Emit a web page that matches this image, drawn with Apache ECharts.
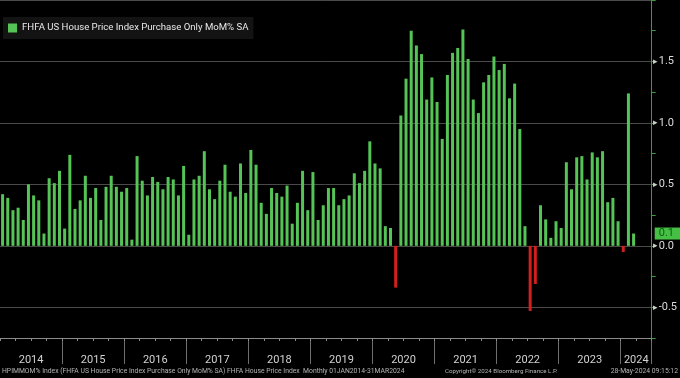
<!DOCTYPE html>
<html>
<head>
<meta charset="utf-8">
<script src="https://cdn.jsdelivr.net/npm/echarts@6/dist/echarts.min.js"></script>
<style>
html,body{margin:0;padding:0;background:#000;}
#c{width:680px;height:378px;}
</style>
</head>
<body>
<div id="c"></div>
<script>
// Monthly values Jan 2014 .. Mar 2024 (MoM %, SA)
const years = ['2014','2015','2016','2017','2018','2019','2020','2021','2022','2023','2024'];
const values = [
  0.42,0.39,0.29,0.31,0.21,0.50,0.41,0.37,0.10,0.55,0.51,0.61,
  0.14,0.74,0.30,0.37,0.57,0.39,0.47,0.21,0.48,0.57,0.48,0.44,
  0.47,0.05,0.73,0.53,0.41,0.56,0.52,0.46,0.56,0.54,0.41,0.65,
  0.09,0.54,0.57,0.77,0.46,0.38,0.53,0.66,0.44,0.40,0.67,0.43,
  0.78,0.66,0.35,0.26,0.47,0.43,0.40,0.49,0.18,0.35,0.61,0.29,
  0.60,0.21,0.33,0.47,0.47,0.33,0.38,0.41,0.59,0.51,0.61,0.85,
  0.67,0.63,0.16,0.145,-0.34,1.06,1.36,1.75,1.63,1.56,1.19,1.37,
  1.17,0.87,1.39,1.57,1.61,1.76,1.52,1.19,1.08,1.33,1.39,1.54,
  1.43,1.48,1.20,1.32,0.95,0.16,-0.53,-0.31,0.33,0.215,0.065,0.20,
  0.145,0.68,0.46,0.72,0.73,0.54,0.76,0.72,0.77,0.355,0.39,0.20,
  -0.05,1.24,0.10
];
const seriesName = 'FHFA US House Price Index Purchase Only MoM% SA';
const footerLeft = 'HPIMMOM% Index (FHFA US House Price Index Purchase Only MoM% SA) FHFA House Price Index  Monthly 01JAN2014-31MAR2024';
const footerMid = 'Copyright\u00a9 2024 Bloomberg Finance L.P.';
const footerRight = '28-May-2024 09:15:12';

// month categories incl. 3 empty trailing months
const months = [];
years.forEach(y => { for (let m = 1; m <= 12; m++) months.push(y + '-' + (m < 10 ? '0' + m : m)); });
const categories = months.slice(0, values.length + 3);
const lastIdx = values.length; // first empty category (Apr 2024) carries the '2024' label

const FONT = 'Roboto,"Liberation Sans",sans-serif';
const GREEN = '#55c355';
const RED = '#d41f1f';
const lastVal = values[values.length - 1];

const chart = echarts.init(document.getElementById('c'), null, {renderer: 'canvas'});
chart.setOption({
  backgroundColor: '#000',
  animation: false,
  textStyle: {fontFamily: FONT},
  legend: {
    left: 3, top: 17,
    padding: [6, 5, 6, 5],
    backgroundColor: '#131313',
    icon: 'rect', itemWidth: 9, itemHeight: 9, itemGap: 4,
    textStyle: {color: '#e8e8e8', fontSize: 9.6, fontFamily: FONT},
    data: [{name: seriesName, itemStyle: {color: GREEN}}]
  },
  grid: {left: -2, right: 28, top: 0, bottom: 40},
  xAxis: [{
    type: 'category',
    data: categories,
    position: 'bottom',
    axisLine: {onZero: false, lineStyle: {color: '#8c8c8c', width: 1}},
    axisTick: {
      show: true,
      interval: (i) => i % 12 === 0 && i > 0,
      length: 26,
      lineStyle: {color: '#6e6e6e'}
    },
    axisLabel: {
      interval: (i) => i % 12 === 6 || i === lastIdx,
      formatter: (v) => v.slice(0, 4),
      color: '#d2d2d2', fontSize: 11, fontFamily: FONT,
      margin: 17, padding: [0, 5, 0, 0]
    },
    splitLine: {show: false}
  }, {
    type: 'category',
    data: categories,
    position: 'bottom',
    axisLine: {show: false, onZero: false},
    axisTick: {show: true, interval: (i) => i % 3 === 0, length: 3, lineStyle: {color: '#8c8c8c'}},
    axisLabel: {show: false},
    splitLine: {show: false}
  }],
  yAxis: {
    type: 'value',
    position: 'right',
    min: -0.75, max: 2.0, interval: 0.25,
    axisLine: {show: true, lineStyle: {color: '#3f9b3f', width: 1}},
    axisTick: {show: true, length: 4, lineStyle: {color: '#3f9b3f'}},
    axisLabel: {
      show: true, margin: 1,
      color: '#dcdcdc', fontSize: 11, fontFamily: FONT,
      formatter: (v) => {
        const r = Math.round(v * 100) / 100;
        if (Math.abs(r * 2 - Math.round(r * 2)) > 1e-6) return '';
        if (r >= 2 || r <= -0.75) return '';
        const t = (Math.abs(r) < 1e-9 ? 0 : r).toFixed(1);
        return '{a|\u25B8}' + t;
      },
      rich: {a: {color: '#cfcfcf', fontSize: 9, padding: [0, 1, 0, 0]}}
    },
    splitLine: {show: true, lineStyle: {color: ['rgba(0,0,0,0)', '#4a4a4a'], width: 1}}
  },
  series: [{
    name: seriesName,
    type: 'bar',
    data: values,
    barWidth: 3,
    clip: false,
    itemStyle: {color: (p) => (p.value < 0 ? RED : GREEN)},
    markLine: {
      silent: true,
      symbol: 'none',
      lineStyle: {color: 'rgba(0,0,0,0)', width: 1, type: 'solid'},
      label: {
        show: true, position: 'end', distance: 3,
        formatter: () => lastVal.toFixed(1),
        color: '#125c12', backgroundColor: '#45c045',
        fontSize: 11, fontFamily: FONT,
        padding: [1, 7, 0, 4]
      },
      data: [{yAxis: lastVal}]
    }
  }],
  graphic: [
    {type: 'text', left: 2, top: 368, style: {text: footerLeft, fill: '#b4b4b4', font: '6.8px ' + FONT}},
    {type: 'text', left: 445, top: 368, style: {text: footerMid, fill: '#b4b4b4', font: '6.2px ' + FONT}},
    {type: 'text', right: 2, top: 368, style: {text: footerRight, fill: '#b4b4b4', font: '6.8px ' + FONT}}
  ]
});
</script>
</body>
</html>
